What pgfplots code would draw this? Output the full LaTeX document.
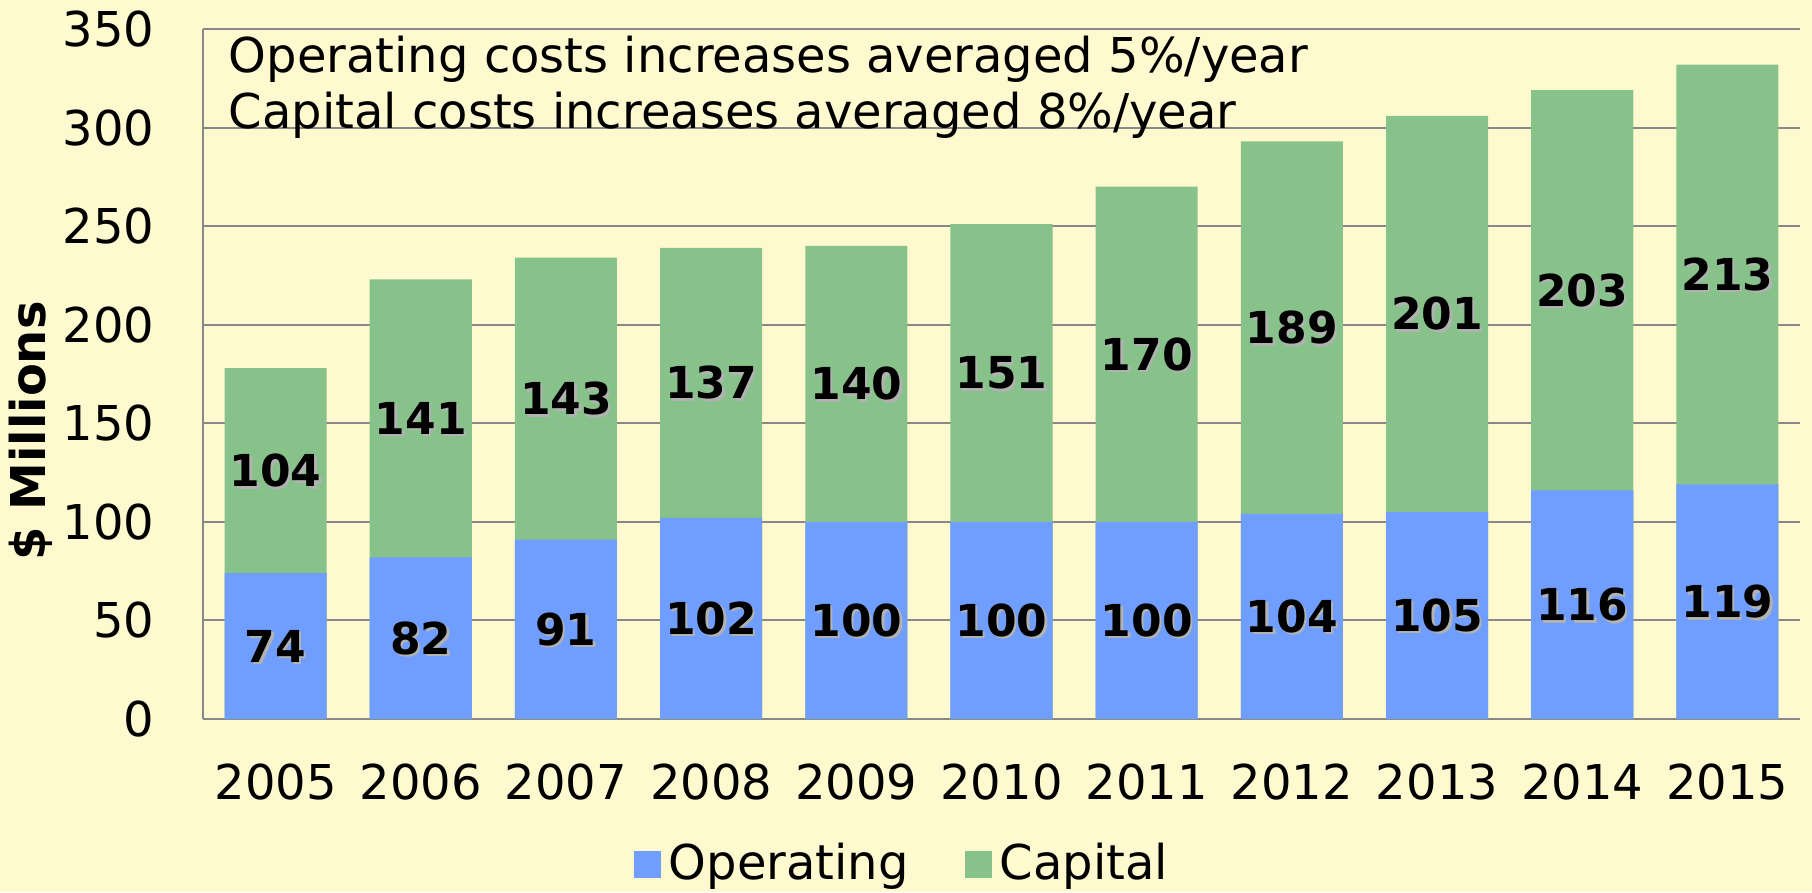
\documentclass[border=0pt]{standalone}
\usepackage{fontspec}
\setmainfont{DejaVu Sans}
\usepackage{pgfplots}
\usepackage{pgfplotstable}
\pgfplotsset{compat=1.18}

\definecolor{bgcream}{RGB}{255,249,208}
\definecolor{opblue}{RGB}{111,158,255}
\definecolor{capgreen}{RGB}{136,194,139}
\definecolor{gridgray}{RGB}{136,136,136}

% operating and capital costs, $ millions
\pgfplotstableread{
x year op cap
0 2005 74 104
1 2006 82 141
2 2007 91 143
3 2008 102 137
4 2009 100 140
5 2010 100 151
6 2011 100 170
7 2012 104 189
8 2013 105 201
9 2014 116 203
10 2015 119 213
}\costs

\pgfplotsset{
  barlabel/.style={draw=none, mark=none, forget plot,
    point meta=explicit symbolic, nodes near coords,
    nodes near coords align={center},
    every node near coord/.append style={font=\bfseries\fontsize{11}{13}\selectfont, inner sep=0pt}},
  shadow/.style={every node near coord/.append style={text=black!30, xshift=0.6pt, yshift=-0.6pt}},
}

\begin{document}
\begin{tikzpicture}
\path[use as bounding box, fill=bgcream] (-50.75pt,-43.25pt) rectangle (402.25pt,179.75pt);
\begin{axis}[
  scale only axis,
  width=399.25pt, height=172.5pt,
  at={(0pt,0pt)}, anchor=south west,
  xmin=-0.5, xmax=10.5,
  ymin=0, ymax=350,
  ytick={0,50,...,350},
  xtick={0,...,10},
  xticklabels from table={\costs}{year},
  axis x line*=bottom, axis y line*=left,
  axis line style={-, gridgray, line width=0.6pt},
  ymajorgrids, grid style={gridgray, line width=0.5pt},
  major tick length=0pt, tick style={draw=none},
  font=\fontsize{12}{14}\selectfont,
  /pgf/number format/assume math mode=true,
  yticklabel style={anchor=east, inner sep=0pt, xshift=-12pt},
  xticklabel style={anchor=north, inner sep=0pt, yshift=-11pt},
  ylabel={\$ Millions},
  ylabel style={font=\bfseries\fontsize{12}{14}\selectfont,
    at={(axis description cs:-0.1077,0.4174)}, anchor=center},
  legend image code/.code={\fill[#1, draw=none] (0pt,-3.4pt) rectangle (6.75pt,3.4pt);},
  legend style={draw=none, fill=none, at={(rel axis cs:0.4396,-0.211)}, anchor=center,
    legend columns=2, font=\fontsize{12}{14}\selectfont,
    /tikz/every even column/.append style={column sep=12pt}},
]
\addplot[ybar, bar width=0.703, bar shift=0pt, fill=capgreen, draw=none, forget plot]
  table[x=x, y expr=\thisrow{op}+\thisrow{cap}] {\costs};
\addplot[ybar, bar width=0.703, bar shift=0pt, fill=opblue, draw=none, forget plot]
  table[x=x, y=op] {\costs};

\addplot[barlabel, shadow] table[x=x, y expr=\thisrow{op}/2, meta=op] {\costs};
\addplot[barlabel] table[x=x, y expr=\thisrow{op}/2, meta=op] {\costs};
\addplot[barlabel, shadow] table[x=x, y expr=\thisrow{op}+\thisrow{cap}/2, meta=cap] {\costs};
\addplot[barlabel] table[x=x, y expr=\thisrow{op}+\thisrow{cap}/2, meta=cap] {\costs};

\addlegendimage{fill=opblue, draw=none}
\addlegendentry{Operating}
\addlegendimage{fill=capgreen, draw=none}
\addlegendentry{Capital}
\end{axis}
\node[anchor=base west, inner sep=0pt, font=\fontsize{12}{14}\selectfont] at (6.25pt,161.75pt)
  {Operating costs increases averaged 5\%/year};
\node[anchor=base west, inner sep=0pt, font=\fontsize{12}{14}\selectfont] at (6.25pt,147.75pt)
  {Capital costs increases averaged 8\%/year};
\end{tikzpicture}
\end{document}
